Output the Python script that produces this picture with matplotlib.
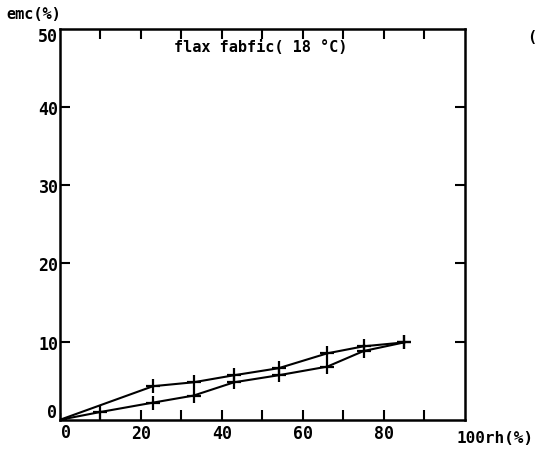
import numpy as np
import matplotlib
matplotlib.use('Agg')
import matplotlib.pyplot as plt
import matplotlib.transforms as mtransforms

# adsorption / desorption readings
rh_ads = [0, 10, 23, 33, 43, 54, 66, 75, 85]
emc_ads = [0, 1.0, 2.2, 3.1, 4.8, 5.7, 6.8, 8.8, 9.9]
rh_des = [0, 23, 33, 43, 54, 66, 75, 85]
emc_des = [0, 4.3, 4.8, 5.7, 6.6, 8.5, 9.4, 9.9]

xticks = [10, 20, 30, 40, 50, 60, 70, 80, 90]
xlabels = ['', '20', '', '40', '', '60', '', '80', '']
yticks = [10, 20, 30, 40]
ylabels = ['10', '20', '30', '40']

font = 'DejaVu Sans Mono'
tkw = dict(fontfamily=font, fontweight='bold', fontsize=12)

fig = plt.figure(figsize=(5.35, 4.52), dpi=100)
ax = fig.add_axes([0.112, 0.069, 0.757, 0.865])

ax.plot(rh_ads, emc_ads, color='black', lw=1.5, marker='+', ms=10, mew=1.6)
ax.plot(rh_des, emc_des, color='black', lw=1.5, marker='+', ms=10, mew=1.6)

ax.set_xlim(0, 100)
ax.set_ylim(0, 50)
ax.set_xticks(xticks)
ax.set_xticklabels(xlabels, **tkw)
ax.set_yticks(yticks)
ax.set_yticklabels(ylabels, **tkw)
ax.tick_params(direction='in', length=7, width=1.5, top=True, right=True, pad=3)
ax.tick_params(axis='y', pad=1)
for s in ax.spines.values():
    s.set_linewidth(1.8)

# corner labels
ax.text(-0.6, 1.0, '0', ha='right', va='center', **tkw)
ax.text(-0.6, 49.1, '50', ha='right', va='center', **tkw)
trans = mtransforms.blended_transform_factory(ax.transData, ax.transAxes)
ax.text(1.5, -0.008, '0', transform=trans, ha='center', va='top', **tkw)

ax.text(49.5, 47.8, 'flax fabfic( 18 °C)', ha='center', va='center',
        fontfamily=font, fontweight='bold', fontsize=11)

ax.text(97.8, -0.025, '100rh(%)', transform=trans, ha='left', va='top',
        fontfamily=font, fontweight='bold', fontsize=11.5)
fig.text(0.012, 0.968, 'emc(%)', ha='left', va='center',
         fontfamily=font, fontweight='bold', fontsize=11)
fig.text(0.985, 0.918, '(', ha='left', va='center',
         fontfamily=font, fontweight='bold', fontsize=11)

fig.savefig('out.png', dpi=100)
